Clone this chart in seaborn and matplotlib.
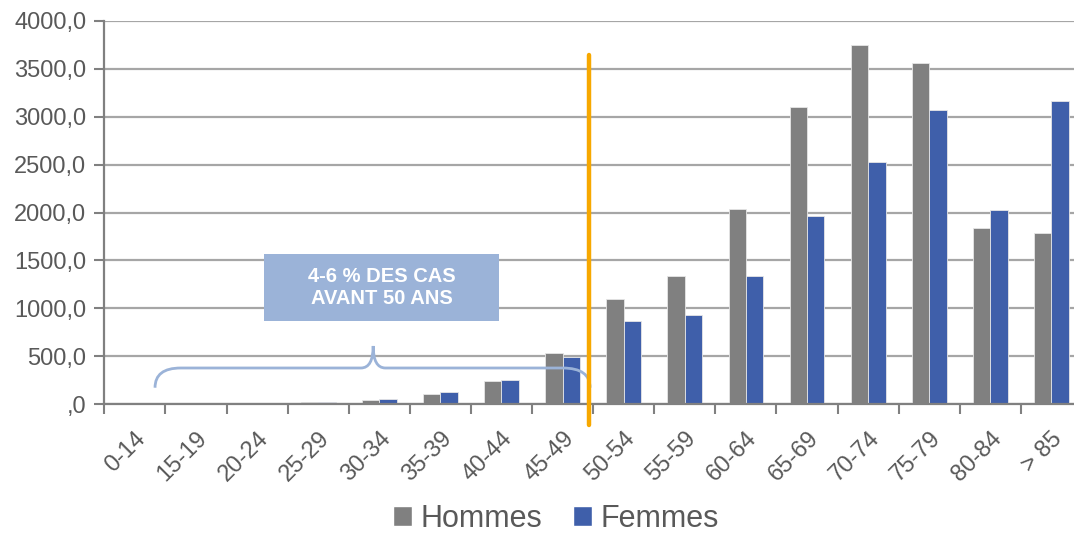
import pandas as pd
import matplotlib
matplotlib.use('Agg')
import matplotlib.pyplot as plt
import seaborn as sns
from matplotlib.path import Path
from matplotlib.patches import PathPatch, Rectangle, Patch

# tranches d'âge et incidence par sexe
ages = ['0-14', '15-19', '20-24', '25-29', '30-34', '35-39', '40-44', '45-49',
        '50-54', '55-59', '60-64', '65-69', '70-74', '75-79', '80-84', '> 85']
hommes = [1, 3, 8, 18, 38, 104, 243, 529, 1093, 1334, 2033, 3098, 3753, 3561, 1838, 1786]
femmes = [1, 2, 8, 22, 49, 122, 254, 494, 867, 929, 1340, 1960, 2531, 3067, 2029, 3161]
y_ticks = [0, 500, 1000, 1500, 2000, 2500, 3000, 3500, 4000]
y_labels = [',0', '500,0', '1000,0', '1500,0', '2000,0', '2500,0', '3000,0', '3500,0', '4000,0']
note = '4-6 % DES CAS\nAVANT 50 ANS'

gris = '#808080'
bleu = '#3F5FAA'
bleu_clair = '#9BB3D8'
orange = '#F7A800'
texte = '#595959'

df = pd.DataFrame({
    'age': ages * 2,
    'valeur': hommes + femmes,
    'sexe': ['Hommes'] * len(ages) + ['Femmes'] * len(ages),
})

sns.set_style('white')
plt.rcParams['font.family'] = ['Liberation Sans', 'DejaVu Sans']

fig = plt.figure(figsize=(10.74, 5.35), dpi=100)
ax = fig.add_axes([104.3 / 1074, 131 / 535, 977.7 / 1074, 383 / 535])

sns.barplot(data=df, x='age', y='valeur', hue='sexe', order=ages,
            hue_order=['Hommes', 'Femmes'], palette=[gris, bleu], saturation=1,
            width=0.57, gap=0, edgecolor='#e6e6e6', linewidth=0.6,
            legend=False, ax=ax)

ax.set_xlim(-0.5, len(ages) - 0.5)
ax.set_ylim(0, 4000)
ax.set_yticks(y_ticks)
ax.set_yticklabels(y_labels)
ax.set_xticks(range(len(ages)))
ax.set_xticklabels(ages, rotation=45, ha='right', rotation_mode='anchor')
ax.tick_params(axis='x', which='major', length=0, pad=17, labelsize=17, labelcolor=texte)
ax.tick_params(axis='y', length=7, width=1.5, color='#808080', labelsize=17,
               labelcolor=texte, pad=6, left=True)
# petites graduations entre les catégories
ax.set_xticks([i + 0.5 for i in range(-1, len(ages))], minor=True)
ax.tick_params(axis='x', which='minor', length=7, width=1.5, color='#808080', bottom=True)

ax.grid(axis='y', color='#a6a6a6', linewidth=1.6)
ax.set_axisbelow(True)
for s in ['top', 'right']:
    ax.spines[s].set_visible(False)
for s in ['left', 'bottom']:
    ax.spines[s].set_color('#808080')
    ax.spines[s].set_linewidth(1.6)
ax.set_xlabel('')
ax.set_ylabel('')

# ligne orange à 50 ans
ax.plot([7.43, 7.43], [-220, 3645], color=orange, linewidth=3.2, clip_on=False, zorder=5)

# accolade
verts = [(0.33, 170), (0.33, 376), (0.75, 376),
         (3.7, 376),
         (3.9, 376), (3.9, 606),
         (3.9, 376), (4.1, 376),
         (7.0, 376),
         (7.45, 376), (7.45, 170)]
codes = [Path.MOVETO, Path.CURVE3, Path.CURVE3,
         Path.LINETO,
         Path.CURVE3, Path.CURVE3,
         Path.CURVE3, Path.CURVE3,
         Path.LINETO,
         Path.CURVE3, Path.CURVE3]
ax.add_patch(PathPatch(Path(verts, codes), facecolor='none', edgecolor=bleu_clair,
                       linewidth=2, zorder=4))

# encadré
ax.add_patch(Rectangle((2.11, 867), 3.85, 700, facecolor=bleu_clair, edgecolor='none', zorder=4))
ax.text(4.035, 1217, note, ha='center', va='center', color='white', fontsize=14.5,
        fontweight='bold', linespacing=1.25, zorder=6)

# légende
handles = [Patch(facecolor=gris, label='Hommes'), Patch(facecolor=bleu, label='Femmes')]
fig.legend(handles=handles, loc='center', bbox_to_anchor=(0.518, 0.03), ncol=2,
           frameon=False, fontsize=22, labelcolor=texte, handlelength=0.6,
           handleheight=0.6, handletextpad=0.3, columnspacing=1.0,
           borderpad=0.1)

fig.savefig('out.png', dpi=100)
